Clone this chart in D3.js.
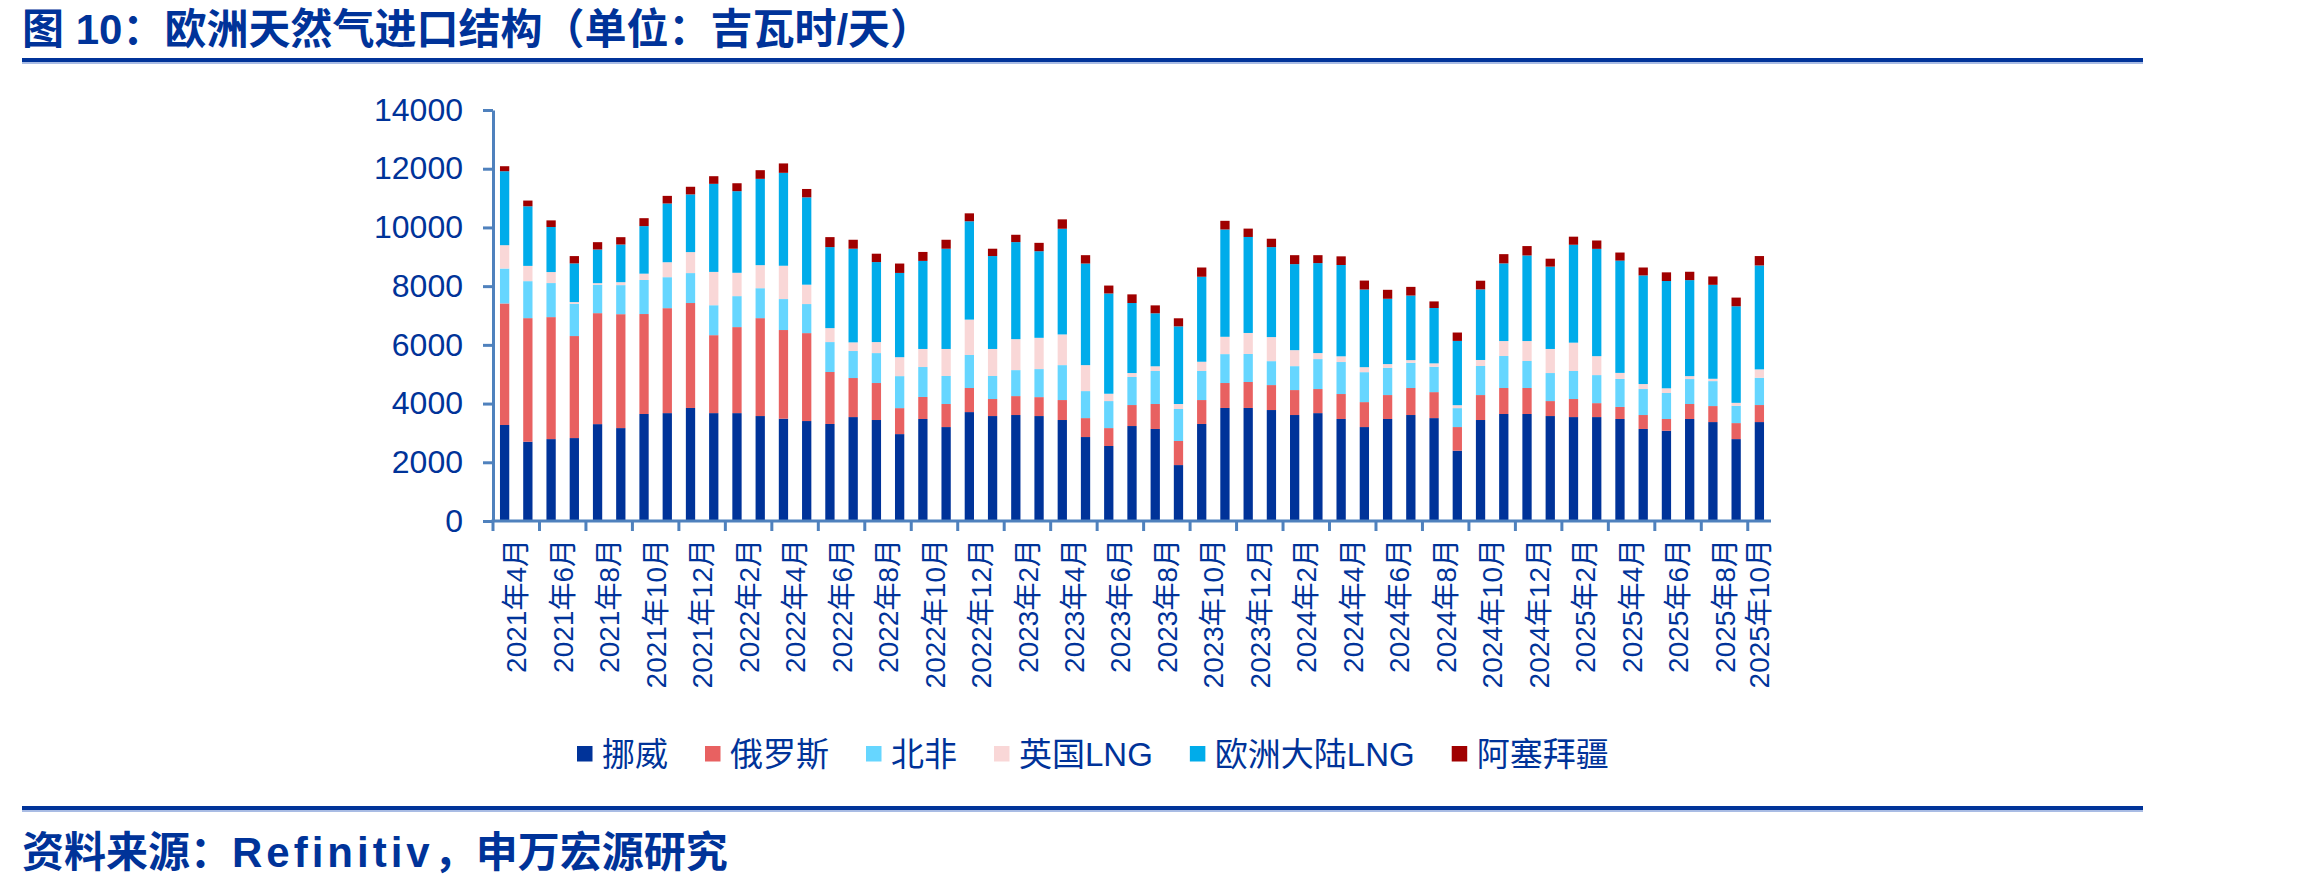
<!DOCTYPE html>
<html>
<head>
<meta charset="utf-8">
<script src="https://cdn.jsdelivr.net/npm/d3@7"></script>
<style>
body { margin: 0; background: #fff; }
text { font-family: "Liberation Sans", "Noto Sans CJK SC", sans-serif; fill: #003399; }
</style>
</head>
<body>
<svg id="chart" width="2314" height="888"></svg>
<script>
// months on the x axis
var months = [
	"2021年4月", "2021年5月", "2021年6月", "2021年7月", "2021年8月", "2021年9月", "2021年10月", "2021年11月", "2021年12月",
	"2022年1月", "2022年2月", "2022年3月", "2022年4月", "2022年5月", "2022年6月", "2022年7月", "2022年8月", "2022年9月", "2022年10月", "2022年11月", "2022年12月",
	"2023年1月", "2023年2月", "2023年3月", "2023年4月", "2023年5月", "2023年6月", "2023年7月", "2023年8月", "2023年9月", "2023年10月", "2023年11月", "2023年12月",
	"2024年1月", "2024年2月", "2024年3月", "2024年4月", "2024年5月", "2024年6月", "2024年7月", "2024年8月", "2024年9月", "2024年10月", "2024年11月", "2024年12月",
	"2025年1月", "2025年2月", "2025年3月", "2025年4月", "2025年5月", "2025年6月", "2025年7月", "2025年8月", "2025年9月", "2025年10月"
];

// GWh/d
var norway = [3270, 2700, 2790, 2825, 3300, 3165, 3645, 3675, 3850,
	3675, 3675, 3575, 3485, 3405, 3305, 3540, 3440, 2960, 3475, 3200, 3710,
	3575, 3610, 3575, 3440, 2860, 2555, 3235, 3135, 1905, 3305, 3850, 3850,
	3780, 3610, 3675, 3475, 3200, 3475, 3610, 3505, 2395, 3440, 3645, 3645,
	3575, 3540, 3540, 3475, 3135, 3075, 3475, 3370, 2790, 3370];
var russia = [4140, 4210, 4155, 3475, 3780, 3880, 3405, 3575, 3575,
	2655, 2930, 3335, 3020, 2995, 1770, 1330, 1260, 885, 750, 785, 820,
	580, 645, 645, 680, 645, 610, 715, 850, 820, 815, 850, 885,
	850, 850, 820, 850, 850, 815, 920, 885, 805, 850, 885, 885,
	510, 615, 475, 410, 475, 400, 510, 545, 545, 580];
var northAfrica = [1190, 1260, 1160, 1100, 965, 990, 1160, 1055, 1020,
	1020, 1055, 1020, 1055, 990, 1020, 920, 1020, 1090, 1020, 955, 1125,
	785, 885, 955, 1190, 920, 920, 955, 1125, 1090, 990, 985, 955,
	815, 815, 1020, 1090, 1020, 930, 860, 865, 645, 990, 1090, 920,
	955, 955, 955, 955, 885, 885, 850, 850, 590, 930];
var ukLng = [795, 520, 375, 57, 57, 100, 215, 510, 715,
	1135, 795, 785, 1135, 660, 475, 295, 375, 645, 615, 920, 1205,
	920, 1055, 1065, 1045, 885, 250, 135, 160, 170, 315, 590, 715,
	820, 545, 205, 195, 170, 125, 90, 115, 100, 205, 510, 680,
	820, 965, 645, 205, 170, 160, 100, 80, 100, 285];
var euLng = [2520, 2030, 1535, 1317, 1146, 1283, 1620, 2000, 1965,
	3000, 2780, 2940, 3165, 2975, 2760, 3190, 2725, 2870, 3000, 3415, 3350,
	3165, 3305, 2950, 3600, 3460, 3415, 2385, 1805, 2645, 2895, 3655, 3270,
	3065, 2930, 3065, 3110, 2645, 2225, 2200, 1885, 2190, 2405, 2645, 2915,
	2805, 3335, 3655, 3825, 3700, 3655, 3270, 3200, 3290, 3540];
var azerbaijan = [170, 195, 225, 250, 250, 250, 270, 260, 260,
	260, 270, 295, 320, 285, 340, 305, 285, 320, 305, 305, 270,
	250, 250, 285, 320, 285, 270, 295, 270, 275, 315, 295, 285,
	285, 305, 270, 295, 305, 305, 295, 225, 285, 295, 315, 320,
	270, 275, 285, 275, 270, 295, 285, 285, 295, 320];

var seriesNames = ["挪威", "俄罗斯", "北非", "英国LNG", "欧洲大陆LNG", "阿塞拜疆"];
var seriesColors = ["#003399", "#e86161", "#66d6ff", "#f9d7d7", "#00acea", "#a00000"];
var yTicks = [0, 2000, 4000, 6000, 8000, 10000, 12000, 14000];

var svg = d3.select("#chart");
var blue = "#003399";
var axisColor = "#4f81bd";

var x = d3.scaleBand()
	.domain(months)
	.range([493, 1771])
	.paddingInner(0.6)
	.paddingOuter(0.3);

var y = d3.scaleLinear()
	.domain([0, 14000])
	.range([521, 110]);

// rows for the stack
var allSeries = [norway, russia, northAfrica, ukLng, euLng, azerbaijan];
var rows = months.map(function(m, i) {
	var r = { month: m };
	seriesNames.forEach(function(name, j) {
		r[name] = allSeries[j][i];
	});
	return r;
});

var stacked = d3.stack().keys(seriesNames)(rows);

var layers = svg.append("g").selectAll("g")
	.data(stacked)
	.enter().append("g")
	.attr("fill", function(d, i) { return seriesColors[i]; });

layers.selectAll("rect")
	.data(function(d) { return d; })
	.enter().append("rect")
	.attr("x", function(d) { return x(d.data.month); })
	.attr("width", x.bandwidth())
	.attr("y", function(d) { return y(d[1]); })
	.attr("height", function(d) { return y(d[0]) - y(d[1]); });

// y axis
var yAxis = d3.axisLeft(y)
	.tickValues(yTicks)
	.tickFormat(d3.format("d"))
	.tickSizeInner(10)
	.tickSizeOuter(0)
	.tickPadding(20);

var gy = svg.append("g")
	.attr("transform", "translate(" + x.range()[0] + ",0)")
	.call(yAxis);
gy.select(".domain").attr("stroke", axisColor).attr("stroke-width", 3);
gy.selectAll(".tick line").attr("stroke", axisColor).attr("stroke-width", 3);
gy.selectAll(".tick text")
	.style("font-size", "32px")
	.attr("fill", blue);

// x axis: ticks every two months on category boundaries
var step = x.step();
var boundary = function(i) { return x(months[i]) - step * x.paddingOuter(); };
var labelIdx = d3.range(0, months.length, 2);

var gx = svg.append("g");
gx.append("line")
	.attr("x1", x.range()[0] - 1.5).attr("x2", x.range()[1])
	.attr("y1", y(0)).attr("y2", y(0))
	.attr("stroke", axisColor).attr("stroke-width", 3);

gx.selectAll(".xtick")
	.data(labelIdx)
	.enter().append("line")
	.attr("class", "xtick")
	.attr("x1", boundary).attr("x2", boundary)
	.attr("y1", y(0)).attr("y2", y(0) + 10)
	.attr("stroke", axisColor).attr("stroke-width", 3);

gx.selectAll(".xlab")
	.data(labelIdx)
	.enter().append("text")
	.attr("class", "xlab")
	.attr("transform", function(i) {
		var n = Math.min(2, months.length - i);
		var cx = boundary(i) + step * n / 2;
		return "translate(" + cx + "," + (y(0) + 18) + ") rotate(-90)";
	})
	.attr("text-anchor", "end")
	.attr("dy", "0.36em")
	.style("font-size", "28px")
	.text(function(i) { return months[i]; });

// legend
var legend = svg.append("g").attr("transform", "translate(577,754)");
var lx = 0;
seriesNames.forEach(function(name, i) {
	var item = legend.append("g").attr("transform", "translate(" + lx + ",0)");
	item.append("rect")
		.attr("x", 0).attr("y", -8)
		.attr("width", 15.5).attr("height", 15.5)
		.attr("fill", seriesColors[i]);
	var t = item.append("text")
		.attr("x", 25)
		.attr("dy", "0.36em")
		.style("font-size", "33px")
		.text(name);
	lx += 25 + t.node().getComputedTextLength() + 37;
});

// title, rules and source
svg.append("text")
	.attr("x", 22).attr("y", 44)
	.style("font-size", "42px")
	.style("font-weight", "bold")
	.text("图 10：欧洲天然气进口结构（单位：吉瓦时/天）");

svg.append("rect").attr("x", 22).attr("y", 58).attr("width", 2121).attr("height", 4).attr("fill", blue);
svg.append("rect").attr("x", 22).attr("y", 62).attr("width", 2121).attr("height", 2).attr("fill", "#a9bce4");

svg.append("rect").attr("x", 22).attr("y", 806).attr("width", 2121).attr("height", 4).attr("fill", blue);
svg.append("rect").attr("x", 22).attr("y", 810).attr("width", 2121).attr("height", 2).attr("fill", "#a9bce4");

var source = svg.append("text")
	.attr("x", 22).attr("y", 867)
	.style("font-size", "42px")
	.style("font-weight", "bold");
source.append("tspan").text("资料来源：");
source.append("tspan").style("letter-spacing", "4px").text("Refinitiv");
source.append("tspan").text("，申万宏源研究");
</script>
</body>
</html>
